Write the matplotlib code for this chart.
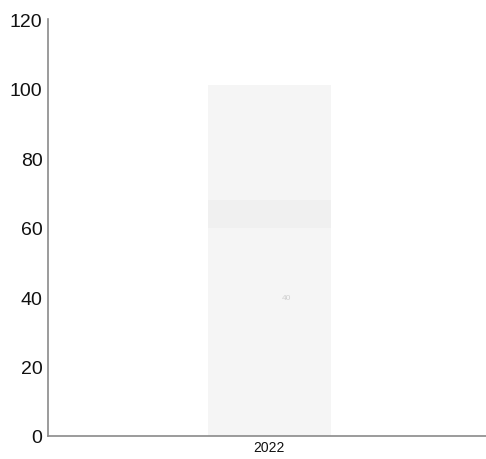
import matplotlib
matplotlib.use("Agg")
import matplotlib.pyplot as plt

plt.rcParams['font.family'] = ['Liberation Sans', 'DejaVu Sans']

categories = ["2022"]
seg_bottom = [60]
seg_middle = [8]
seg_top = [33]
point_label = "40"
point_value = [40]
yticks = [0, 20, 40, 60, 80, 100, 120]

fig = plt.figure(figsize=(4.86, 4.60), dpi=100)
ax = fig.add_axes([0.099, 0.05, 0.901, 0.9065])

x = list(range(len(categories)))
w = 0.5
ax.bar(x, seg_bottom, width=w, color="#f5f5f5", linewidth=0)
ax.bar(x, seg_middle, width=w, bottom=seg_bottom, color="#f0f0f0", linewidth=0)
b2 = [a + b for a, b in zip(seg_bottom, seg_middle)]
ax.bar(x, seg_top, width=w, bottom=b2, color="#f5f5f5", linewidth=0)
for xi, v in zip(x, point_value):
    ax.text(xi + 0.07, v, point_label, ha="center", va="center", fontsize=6, color="#cfcfcf")

ax.set_xlim(-0.898, 0.882)
ax.set_ylim(0, 120)
ax.set_yticks(yticks)
ax.set_yticklabels([str(t) for t in yticks], fontsize=14, color="#111111")
ax.set_xticks(x)
ax.set_xticklabels(categories, fontsize=10, color="#111111")
ax.tick_params(axis="both", length=0)
ax.tick_params(axis="y", pad=4)
ax.tick_params(axis="x", pad=3)
for s in ["top", "right"]:
    ax.spines[s].set_visible(False)
for s in ["left", "bottom"]:
    ax.spines[s].set_color("#8a8a8a")
    ax.spines[s].set_linewidth(1.2)

fig.savefig("out.png", dpi=100)
